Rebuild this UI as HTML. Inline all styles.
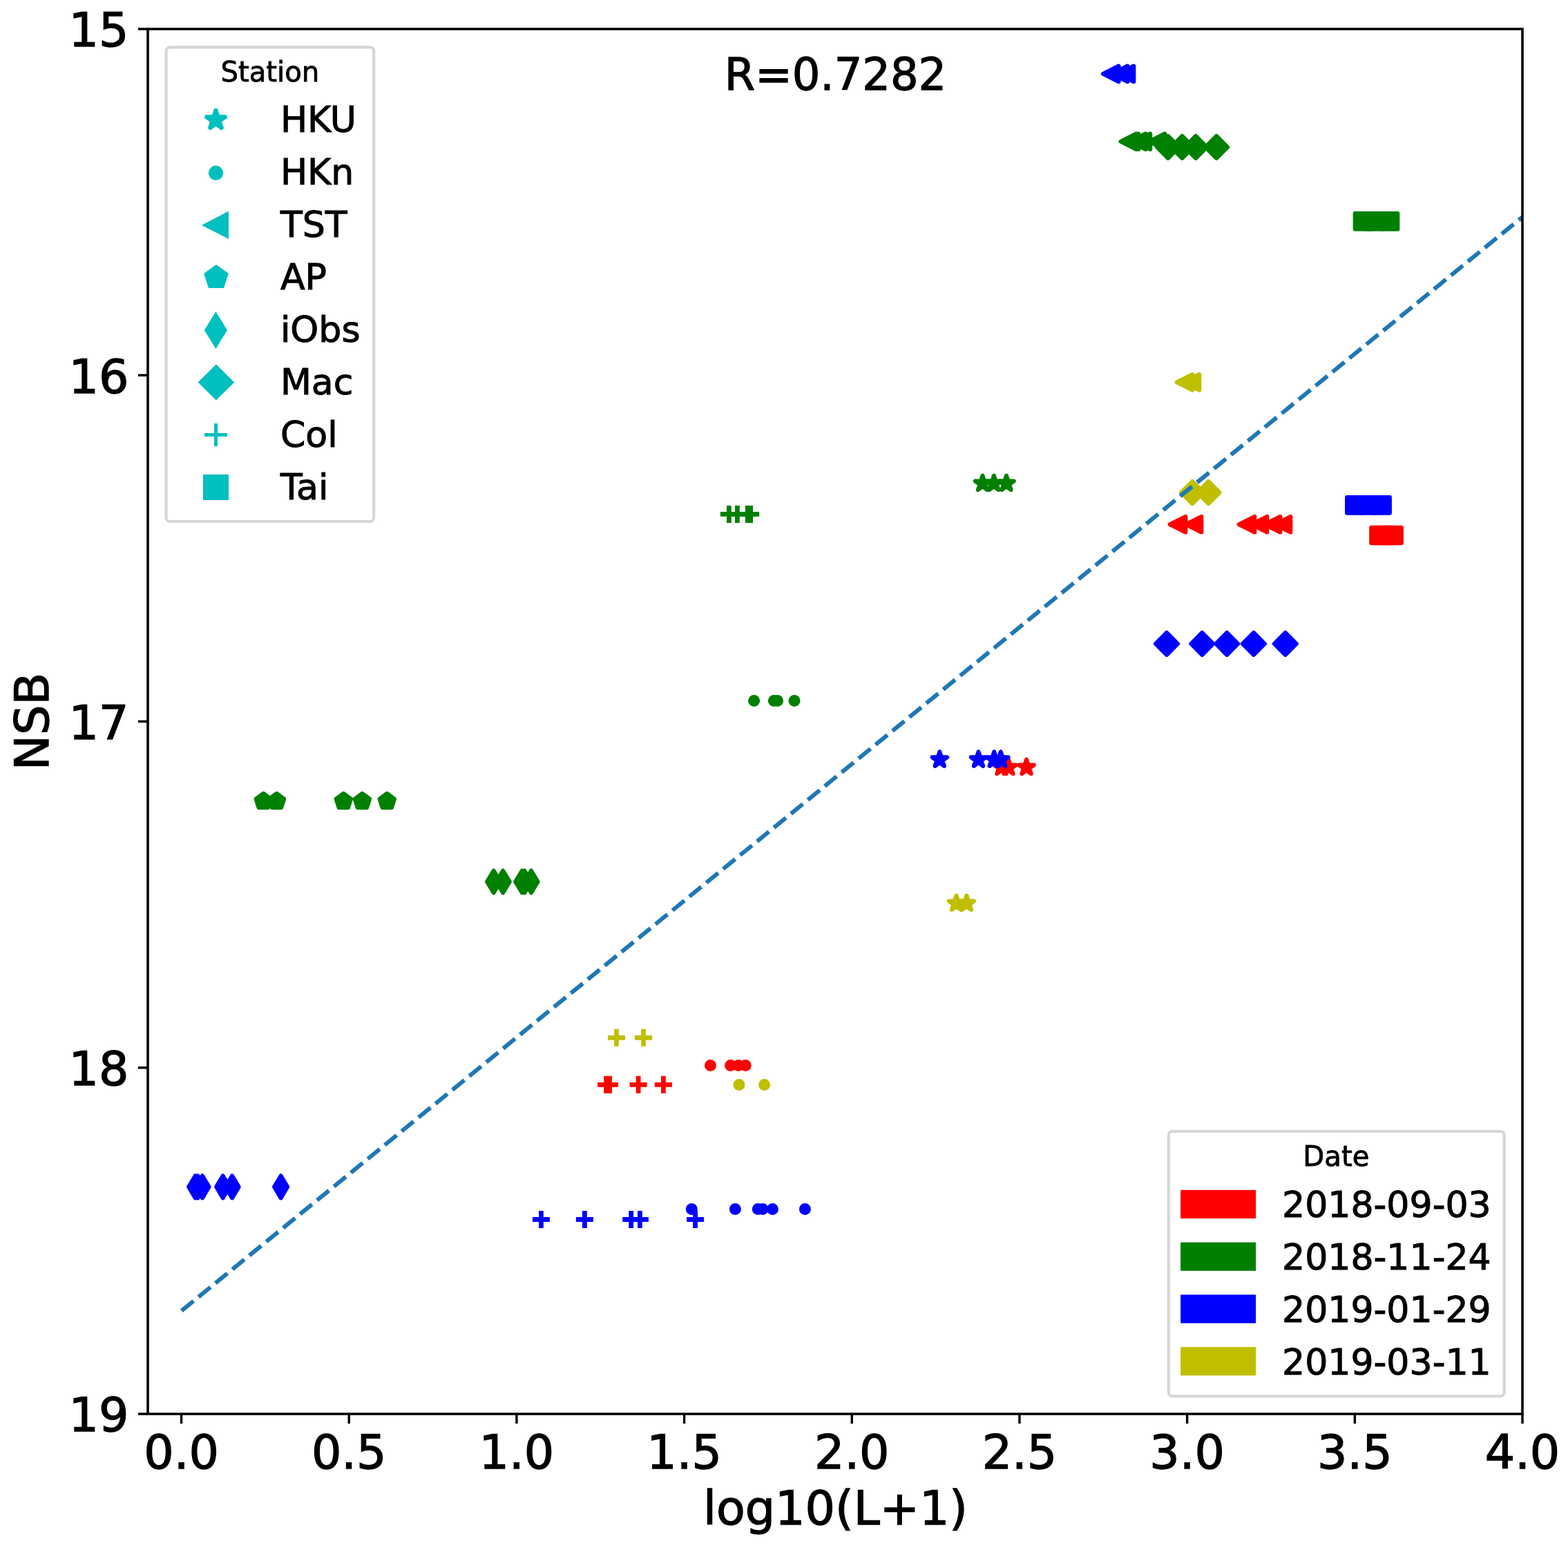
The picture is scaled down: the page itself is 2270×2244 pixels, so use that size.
<!DOCTYPE html><html><head><meta charset="utf-8"><style>html,body{margin:0;padding:0;background:#fff;}svg{display:block;}text{font-family:"DejaVu Sans","Liberation Sans",sans-serif;fill:#000;}</style></head><body>
<svg width="2270" height="2244" viewBox="0 0 2270 2244">
<rect width="2270" height="2244" fill="#fff"/>
<defs><clipPath id="ax"><rect x="214" y="42" width="1990" height="2005"/></clipPath></defs>
<g clip-path="url(#ax)">
<path d="M1450 1099.65 L1447.45 1107.49 L1439.21 1107.49 L1445.88 1112.34 L1443.33 1120.18 L1450 1115.34 L1456.67 1120.18 L1454.12 1112.34 L1460.79 1107.49 L1452.55 1107.49 Z" fill="#ff0000" stroke="#ff0000" stroke-width="6" stroke-linejoin="round"/>
<path d="M1460 1099.65 L1457.45 1107.49 L1449.21 1107.49 L1455.88 1112.34 L1453.33 1120.18 L1460 1115.34 L1466.67 1120.18 L1464.12 1112.34 L1470.79 1107.49 L1462.55 1107.49 Z" fill="#ff0000" stroke="#ff0000" stroke-width="6" stroke-linejoin="round"/>
<path d="M1486 1099.65 L1483.45 1107.49 L1475.21 1107.49 L1481.88 1112.34 L1479.33 1120.18 L1486 1115.34 L1492.67 1120.18 L1490.12 1112.34 L1496.79 1107.49 L1488.55 1107.49 Z" fill="#ff0000" stroke="#ff0000" stroke-width="6" stroke-linejoin="round"/>
<circle cx="1028.5" cy="1542.4" r="8.5" fill="#ff0000"/>
<circle cx="1057.6" cy="1542.4" r="8.5" fill="#ff0000"/>
<circle cx="1068.8" cy="1542.4" r="8.5" fill="#ff0000"/>
<circle cx="1079.2" cy="1542.4" r="8.5" fill="#ff0000"/>
<path d="M1693.65 759.2 L1716.35 747.85 L1716.35 770.55 Z" fill="#ff0000" stroke="#ff0000" stroke-width="6" stroke-linejoin="round"/>
<path d="M1716.65 759.2 L1739.35 747.85 L1739.35 770.55 Z" fill="#ff0000" stroke="#ff0000" stroke-width="6" stroke-linejoin="round"/>
<path d="M1793.65 759.2 L1816.35 747.85 L1816.35 770.55 Z" fill="#ff0000" stroke="#ff0000" stroke-width="6" stroke-linejoin="round"/>
<path d="M1811.65 759.2 L1834.35 747.85 L1834.35 770.55 Z" fill="#ff0000" stroke="#ff0000" stroke-width="6" stroke-linejoin="round"/>
<path d="M1830.65 759.2 L1853.35 747.85 L1853.35 770.55 Z" fill="#ff0000" stroke="#ff0000" stroke-width="6" stroke-linejoin="round"/>
<path d="M1845.65 759.2 L1868.35 747.85 L1868.35 770.55 Z" fill="#ff0000" stroke="#ff0000" stroke-width="6" stroke-linejoin="round"/>
<path d="M865.1 1570.3 H890.1 M877.6 1557.8 V1582.8" stroke="#ff0000" stroke-width="6.8" fill="none"/>
<path d="M870 1570.3 H895 M882.5 1557.8 V1582.8" stroke="#ff0000" stroke-width="6.8" fill="none"/>
<path d="M911.6 1570.3 H936.6 M924.1 1557.8 V1582.8" stroke="#ff0000" stroke-width="6.8" fill="none"/>
<path d="M947.9 1570.3 H972.9 M960.4 1557.8 V1582.8" stroke="#ff0000" stroke-width="6.8" fill="none"/>
<path d="M1985.15 763.65 L2007.85 763.65 L2007.85 786.35 L1985.15 786.35 Z" fill="#ff0000" stroke="#ff0000" stroke-width="6" stroke-linejoin="round"/>
<path d="M1994.65 763.65 L2017.35 763.65 L2017.35 786.35 L1994.65 786.35 Z" fill="#ff0000" stroke="#ff0000" stroke-width="6" stroke-linejoin="round"/>
<path d="M2006.15 763.65 L2028.85 763.65 L2028.85 786.35 L2006.15 786.35 Z" fill="#ff0000" stroke="#ff0000" stroke-width="6" stroke-linejoin="round"/>
<path d="M1422.5 688.65 L1419.95 696.49 L1411.71 696.49 L1418.38 701.34 L1415.83 709.18 L1422.5 704.34 L1429.17 709.18 L1426.62 701.34 L1433.29 696.49 L1425.05 696.49 Z" fill="#008000" stroke="#008000" stroke-width="6" stroke-linejoin="round"/>
<path d="M1438.9 688.65 L1436.35 696.49 L1428.11 696.49 L1434.78 701.34 L1432.23 709.18 L1438.9 704.34 L1445.57 709.18 L1443.02 701.34 L1449.69 696.49 L1441.45 696.49 Z" fill="#008000" stroke="#008000" stroke-width="6" stroke-linejoin="round"/>
<path d="M1457 688.65 L1454.45 696.49 L1446.21 696.49 L1452.88 701.34 L1450.33 709.18 L1457 704.34 L1463.67 709.18 L1461.12 701.34 L1467.79 696.49 L1459.55 696.49 Z" fill="#008000" stroke="#008000" stroke-width="6" stroke-linejoin="round"/>
<circle cx="1091.6" cy="1014.4" r="8.5" fill="#008000"/>
<circle cx="1120.4" cy="1014.4" r="8.5" fill="#008000"/>
<circle cx="1125.5" cy="1014.4" r="8.5" fill="#008000"/>
<circle cx="1150" cy="1014.4" r="8.5" fill="#008000"/>
<path d="M1622.45 204.9 L1645.15 193.55 L1645.15 216.25 Z" fill="#008000" stroke="#008000" stroke-width="6" stroke-linejoin="round"/>
<path d="M1625.55 204.9 L1648.25 193.55 L1648.25 216.25 Z" fill="#008000" stroke="#008000" stroke-width="6" stroke-linejoin="round"/>
<path d="M1635.85 204.9 L1658.55 193.55 L1658.55 216.25 Z" fill="#008000" stroke="#008000" stroke-width="6" stroke-linejoin="round"/>
<path d="M1642.55 204.9 L1665.25 193.55 L1665.25 216.25 Z" fill="#008000" stroke="#008000" stroke-width="6" stroke-linejoin="round"/>
<path d="M1663.55 204.9 L1686.25 193.55 L1686.25 216.25 Z" fill="#008000" stroke="#008000" stroke-width="6" stroke-linejoin="round"/>
<path d="M381.3 1148.75 L370.51 1156.59 L374.63 1169.28 L387.97 1169.28 L392.09 1156.59 Z" fill="#008000" stroke="#008000" stroke-width="6" stroke-linejoin="round"/>
<path d="M400.5 1148.75 L389.71 1156.59 L393.83 1169.28 L407.17 1169.28 L411.29 1156.59 Z" fill="#008000" stroke="#008000" stroke-width="6" stroke-linejoin="round"/>
<path d="M497.3 1148.75 L486.51 1156.59 L490.63 1169.28 L503.97 1169.28 L508.09 1156.59 Z" fill="#008000" stroke="#008000" stroke-width="6" stroke-linejoin="round"/>
<path d="M524.4 1148.75 L513.61 1156.59 L517.73 1169.28 L531.07 1169.28 L535.19 1156.59 Z" fill="#008000" stroke="#008000" stroke-width="6" stroke-linejoin="round"/>
<path d="M560.3 1148.75 L549.51 1156.59 L553.63 1169.28 L566.97 1169.28 L571.09 1156.59 Z" fill="#008000" stroke="#008000" stroke-width="6" stroke-linejoin="round"/>
<path d="M714.7 1260.45 L724.33 1276.5 L714.7 1292.55 L705.07 1276.5 Z" fill="#008000" stroke="#008000" stroke-width="6" stroke-linejoin="round"/>
<path d="M728.2 1260.45 L737.83 1276.5 L728.2 1292.55 L718.57 1276.5 Z" fill="#008000" stroke="#008000" stroke-width="6" stroke-linejoin="round"/>
<path d="M755.8 1260.45 L765.43 1276.5 L755.8 1292.55 L746.17 1276.5 Z" fill="#008000" stroke="#008000" stroke-width="6" stroke-linejoin="round"/>
<path d="M759.4 1260.45 L769.03 1276.5 L759.4 1292.55 L749.77 1276.5 Z" fill="#008000" stroke="#008000" stroke-width="6" stroke-linejoin="round"/>
<path d="M769 1260.45 L778.63 1276.5 L769 1292.55 L759.37 1276.5 Z" fill="#008000" stroke="#008000" stroke-width="6" stroke-linejoin="round"/>
<path d="M1691 196.95 L1707.05 213 L1691 229.05 L1674.95 213 Z" fill="#008000" stroke="#008000" stroke-width="6" stroke-linejoin="round"/>
<path d="M1711.4 196.95 L1727.45 213 L1711.4 229.05 L1695.35 213 Z" fill="#008000" stroke="#008000" stroke-width="6" stroke-linejoin="round"/>
<path d="M1731.1 196.95 L1747.15 213 L1731.1 229.05 L1715.05 213 Z" fill="#008000" stroke="#008000" stroke-width="6" stroke-linejoin="round"/>
<path d="M1761.1 196.95 L1777.15 213 L1761.1 229.05 L1745.05 213 Z" fill="#008000" stroke="#008000" stroke-width="6" stroke-linejoin="round"/>
<path d="M1042.9 744.4 H1067.9 M1055.4 731.9 V756.9" stroke="#008000" stroke-width="6.8" fill="none"/>
<path d="M1054.9 744.4 H1079.9 M1067.4 731.9 V756.9" stroke="#008000" stroke-width="6.8" fill="none"/>
<path d="M1069.8 744.4 H1094.8 M1082.3 731.9 V756.9" stroke="#008000" stroke-width="6.8" fill="none"/>
<path d="M1074.2 744.4 H1099.2 M1086.7 731.9 V756.9" stroke="#008000" stroke-width="6.8" fill="none"/>
<path d="M1961.65 309.05 L1984.35 309.05 L1984.35 331.75 L1961.65 331.75 Z" fill="#008000" stroke="#008000" stroke-width="6" stroke-linejoin="round"/>
<path d="M1978.65 309.05 L2001.35 309.05 L2001.35 331.75 L1978.65 331.75 Z" fill="#008000" stroke="#008000" stroke-width="6" stroke-linejoin="round"/>
<path d="M2000.65 309.05 L2023.35 309.05 L2023.35 331.75 L2000.65 331.75 Z" fill="#008000" stroke="#008000" stroke-width="6" stroke-linejoin="round"/>
<path d="M1360.3 1088.45 L1357.75 1096.29 L1349.51 1096.29 L1356.18 1101.14 L1353.63 1108.98 L1360.3 1104.14 L1366.97 1108.98 L1364.42 1101.14 L1371.09 1096.29 L1362.85 1096.29 Z" fill="#0000ff" stroke="#0000ff" stroke-width="6" stroke-linejoin="round"/>
<path d="M1416.5 1088.45 L1413.95 1096.29 L1405.71 1096.29 L1412.38 1101.14 L1409.83 1108.98 L1416.5 1104.14 L1423.17 1108.98 L1420.62 1101.14 L1427.29 1096.29 L1419.05 1096.29 Z" fill="#0000ff" stroke="#0000ff" stroke-width="6" stroke-linejoin="round"/>
<path d="M1439.2 1088.45 L1436.65 1096.29 L1428.41 1096.29 L1435.08 1101.14 L1432.53 1108.98 L1439.2 1104.14 L1445.87 1108.98 L1443.32 1101.14 L1449.99 1096.29 L1441.75 1096.29 Z" fill="#0000ff" stroke="#0000ff" stroke-width="6" stroke-linejoin="round"/>
<path d="M1448.8 1088.45 L1446.25 1096.29 L1438.01 1096.29 L1444.68 1101.14 L1442.13 1108.98 L1448.8 1104.14 L1455.47 1108.98 L1452.92 1101.14 L1459.59 1096.29 L1451.35 1096.29 Z" fill="#0000ff" stroke="#0000ff" stroke-width="6" stroke-linejoin="round"/>
<circle cx="1001.3" cy="1750.4" r="8.5" fill="#0000ff"/>
<circle cx="1064.4" cy="1750.4" r="8.5" fill="#0000ff"/>
<circle cx="1097.3" cy="1750.4" r="8.5" fill="#0000ff"/>
<circle cx="1104.1" cy="1750.4" r="8.5" fill="#0000ff"/>
<circle cx="1118.4" cy="1750.4" r="8.5" fill="#0000ff"/>
<circle cx="1165.4" cy="1750.4" r="8.5" fill="#0000ff"/>
<path d="M1596.85 106.9 L1619.55 95.55 L1619.55 118.25 Z" fill="#0000ff" stroke="#0000ff" stroke-width="6" stroke-linejoin="round"/>
<path d="M1609.65 106.9 L1632.35 95.55 L1632.35 118.25 Z" fill="#0000ff" stroke="#0000ff" stroke-width="6" stroke-linejoin="round"/>
<path d="M1618.65 106.9 L1641.35 95.55 L1641.35 118.25 Z" fill="#0000ff" stroke="#0000ff" stroke-width="6" stroke-linejoin="round"/>
<path d="M282.7 1702.25 L292.33 1718.3 L282.7 1734.35 L273.07 1718.3 Z" fill="#0000ff" stroke="#0000ff" stroke-width="6" stroke-linejoin="round"/>
<path d="M286.4 1702.25 L296.03 1718.3 L286.4 1734.35 L276.77 1718.3 Z" fill="#0000ff" stroke="#0000ff" stroke-width="6" stroke-linejoin="round"/>
<path d="M293 1702.25 L302.63 1718.3 L293 1734.35 L283.37 1718.3 Z" fill="#0000ff" stroke="#0000ff" stroke-width="6" stroke-linejoin="round"/>
<path d="M322.7 1702.25 L332.33 1718.3 L322.7 1734.35 L313.07 1718.3 Z" fill="#0000ff" stroke="#0000ff" stroke-width="6" stroke-linejoin="round"/>
<path d="M336.1 1702.25 L345.73 1718.3 L336.1 1734.35 L326.47 1718.3 Z" fill="#0000ff" stroke="#0000ff" stroke-width="6" stroke-linejoin="round"/>
<path d="M406.6 1702.25 L416.23 1718.3 L406.6 1734.35 L396.97 1718.3 Z" fill="#0000ff" stroke="#0000ff" stroke-width="6" stroke-linejoin="round"/>
<path d="M1689 915.95 L1705.05 932 L1689 948.05 L1672.95 932 Z" fill="#0000ff" stroke="#0000ff" stroke-width="6" stroke-linejoin="round"/>
<path d="M1740.3 915.95 L1756.35 932 L1740.3 948.05 L1724.25 932 Z" fill="#0000ff" stroke="#0000ff" stroke-width="6" stroke-linejoin="round"/>
<path d="M1776.2 915.95 L1792.25 932 L1776.2 948.05 L1760.15 932 Z" fill="#0000ff" stroke="#0000ff" stroke-width="6" stroke-linejoin="round"/>
<path d="M1814.9 915.95 L1830.95 932 L1814.9 948.05 L1798.85 932 Z" fill="#0000ff" stroke="#0000ff" stroke-width="6" stroke-linejoin="round"/>
<path d="M1860.8 915.95 L1876.85 932 L1860.8 948.05 L1844.75 932 Z" fill="#0000ff" stroke="#0000ff" stroke-width="6" stroke-linejoin="round"/>
<path d="M770.9 1765.5 H795.9 M783.4 1753 V1778" stroke="#0000ff" stroke-width="6.8" fill="none"/>
<path d="M833.9 1765.5 H858.9 M846.4 1753 V1778" stroke="#0000ff" stroke-width="6.8" fill="none"/>
<path d="M901.2 1765.5 H926.2 M913.7 1753 V1778" stroke="#0000ff" stroke-width="6.8" fill="none"/>
<path d="M913.9 1765.5 H938.9 M926.4 1753 V1778" stroke="#0000ff" stroke-width="6.8" fill="none"/>
<path d="M994.1 1765.5 H1019.1 M1006.6 1753 V1778" stroke="#0000ff" stroke-width="6.8" fill="none"/>
<path d="M1950.05 720.05 L1972.75 720.05 L1972.75 742.75 L1950.05 742.75 Z" fill="#0000ff" stroke="#0000ff" stroke-width="6" stroke-linejoin="round"/>
<path d="M1969.65 720.05 L1992.35 720.05 L1992.35 742.75 L1969.65 742.75 Z" fill="#0000ff" stroke="#0000ff" stroke-width="6" stroke-linejoin="round"/>
<path d="M1989.25 720.05 L2011.95 720.05 L2011.95 742.75 L1989.25 742.75 Z" fill="#0000ff" stroke="#0000ff" stroke-width="6" stroke-linejoin="round"/>
<path d="M1384.5 1296.55 L1381.95 1304.39 L1373.71 1304.39 L1380.38 1309.24 L1377.83 1317.08 L1384.5 1312.24 L1391.17 1317.08 L1388.62 1309.24 L1395.29 1304.39 L1387.05 1304.39 Z" fill="#bfbf00" stroke="#bfbf00" stroke-width="6" stroke-linejoin="round"/>
<path d="M1399.4 1296.55 L1396.85 1304.39 L1388.61 1304.39 L1395.28 1309.24 L1392.73 1317.08 L1399.4 1312.24 L1406.07 1317.08 L1403.52 1309.24 L1410.19 1304.39 L1401.95 1304.39 Z" fill="#bfbf00" stroke="#bfbf00" stroke-width="6" stroke-linejoin="round"/>
<circle cx="1070" cy="1570.4" r="8.5" fill="#bfbf00"/>
<circle cx="1106.6" cy="1570.4" r="8.5" fill="#bfbf00"/>
<path d="M1703.65 553.4 L1726.35 542.05 L1726.35 564.75 Z" fill="#bfbf00" stroke="#bfbf00" stroke-width="6" stroke-linejoin="round"/>
<path d="M1713.65 553.4 L1736.35 542.05 L1736.35 564.75 Z" fill="#bfbf00" stroke="#bfbf00" stroke-width="6" stroke-linejoin="round"/>
<path d="M1726.1 697.05 L1742.15 713.1 L1726.1 729.15 L1710.05 713.1 Z" fill="#bfbf00" stroke="#bfbf00" stroke-width="6" stroke-linejoin="round"/>
<path d="M1749.5 697.05 L1765.55 713.1 L1749.5 729.15 L1733.45 713.1 Z" fill="#bfbf00" stroke="#bfbf00" stroke-width="6" stroke-linejoin="round"/>
<path d="M880 1502.3 H905 M892.5 1489.8 V1514.8" stroke="#bfbf00" stroke-width="6.8" fill="none"/>
<path d="M919 1502.3 H944 M931.5 1489.8 V1514.8" stroke="#bfbf00" stroke-width="6.8" fill="none"/>
<path d="M262.9 1897.6 L2230 293.04" stroke="#1f77b4" stroke-width="6" fill="none" stroke-dasharray="22.3 9.32"/>
</g>
<text x="1209.5" y="130.1" font-size="63.9" stroke="#000" stroke-width="1.28" text-anchor="middle">R=0.7282</text>
<path d="M214 42 H2204 V2047 H214 Z" fill="none" stroke="#000" stroke-width="3.6" stroke-linejoin="miter"/>
<path d="M262.54 2047 V2061 M505.23 2047 V2061 M747.91 2047 V2061 M990.6 2047 V2061 M1233.28 2047 V2061 M1475.96 2047 V2061 M1718.65 2047 V2061 M1961.34 2047 V2061 M2204.02 2047 V2061 M200 42 H214 M200 543.25 H214 M200 1044.5 H214 M200 1545.75 H214 M200 2047 H214" stroke="#000" stroke-width="3.4" fill="none"/>
<text x="262.54" y="2125.5" font-size="68.3" stroke="#000" stroke-width="1.37" text-anchor="middle">0.0</text>
<text x="505.23" y="2125.5" font-size="68.3" stroke="#000" stroke-width="1.37" text-anchor="middle">0.5</text>
<text x="747.91" y="2125.5" font-size="68.3" stroke="#000" stroke-width="1.37" text-anchor="middle">1.0</text>
<text x="990.6" y="2125.5" font-size="68.3" stroke="#000" stroke-width="1.37" text-anchor="middle">1.5</text>
<text x="1233.28" y="2125.5" font-size="68.3" stroke="#000" stroke-width="1.37" text-anchor="middle">2.0</text>
<text x="1475.96" y="2125.5" font-size="68.3" stroke="#000" stroke-width="1.37" text-anchor="middle">2.5</text>
<text x="1718.65" y="2125.5" font-size="68.3" stroke="#000" stroke-width="1.37" text-anchor="middle">3.0</text>
<text x="1961.34" y="2125.5" font-size="68.3" stroke="#000" stroke-width="1.37" text-anchor="middle">3.5</text>
<text x="2204.02" y="2125.5" font-size="68.3" stroke="#000" stroke-width="1.37" text-anchor="middle">4.0</text>
<text x="186.4" y="67.3" font-size="68.3" stroke="#000" stroke-width="1.37" text-anchor="end">15</text>
<text x="186.4" y="568.55" font-size="68.3" stroke="#000" stroke-width="1.37" text-anchor="end">16</text>
<text x="186.4" y="1069.8" font-size="68.3" stroke="#000" stroke-width="1.37" text-anchor="end">17</text>
<text x="186.4" y="1571.05" font-size="68.3" stroke="#000" stroke-width="1.37" text-anchor="end">18</text>
<text x="186.4" y="2072.3" font-size="68.3" stroke="#000" stroke-width="1.37" text-anchor="end">19</text>
<text x="1209.5" y="2207.3" font-size="68.3" stroke="#000" stroke-width="1.37" text-anchor="middle">log10(L+1)</text>
<text transform="translate(69.6 1044.5) rotate(-90)" x="0" y="0" font-size="68.3" stroke="#000" stroke-width="1.37" text-anchor="middle">NSB</text>
<rect x="240.5" y="68.3" width="300.7" height="686.7" rx="5.6" ry="5.6" fill="#fff" stroke="#d6d6d6" stroke-width="4.2"/>
<text x="390.85" y="118.4" font-size="40.2" stroke="#000" stroke-width="0.80" text-anchor="middle">Station</text>
<text x="405.9" y="191.4" font-size="52.1" stroke="#000" stroke-width="1.04">HKU</text>
<text x="405.9" y="267.4" font-size="52.1" stroke="#000" stroke-width="1.04">HKn</text>
<text x="405.9" y="343.4" font-size="52.1" stroke="#000" stroke-width="1.04">TST</text>
<text x="405.9" y="419.4" font-size="52.1" stroke="#000" stroke-width="1.04">AP</text>
<text x="405.9" y="495.4" font-size="52.1" stroke="#000" stroke-width="1.04">iObs</text>
<text x="405.9" y="571.4" font-size="52.1" stroke="#000" stroke-width="1.04">Mac</text>
<text x="405.9" y="647.4" font-size="52.1" stroke="#000" stroke-width="1.04">Col</text>
<text x="405.9" y="723.4" font-size="52.1" stroke="#000" stroke-width="1.04">Tai</text>
<path d="M312.45 157.7 L308.86 168.76 L297.23 168.76 L306.64 175.59 L303.05 186.64 L312.45 179.81 L321.85 186.64 L318.26 175.59 L327.67 168.76 L316.04 168.76 Z" fill="#00bfbf" stroke="#00bfbf" stroke-width="5" stroke-linejoin="bevel"/>
<circle cx="312.5" cy="250.4" r="10.6" fill="#00bfbf"/>
<path d="M291.95 326 L330.95 305.8 L330.95 346.1 Z" fill="#00bfbf"/>
<path d="M313 383 L295.12 395.99 L301.95 417.01 L324.05 417.01 L330.88 395.99 Z" fill="#00bfbf"/>
<path d="M312.4 450.9 L329 478 L312.4 505.1 L295.8 478 Z" fill="#00bfbf"/>
<path d="M312.9 527.5 L339.1 553.5 L312.9 579.5 L286.7 553.5 Z" fill="#00bfbf"/>
<path d="M296 629.6 H329 M312.5 613.1 V646.1" stroke="#00bfbf" stroke-width="5" fill="none"/>
<rect x="294" y="687" width="37" height="37" fill="#00bfbf"/>
<rect x="1691.7" y="1637.9" width="486" height="383.4" rx="5.6" ry="5.6" fill="#fff" stroke="#d6d6d6" stroke-width="4.2"/>
<text x="1934.4" y="1687.7" font-size="40.2" stroke="#000" stroke-width="0.80" text-anchor="middle">Date</text>
<rect x="1709.1" y="1722.8" width="109" height="41.2" fill="#ff0000"/>
<text x="1856.0" y="1762.3" font-size="52.1" stroke="#000" stroke-width="1.04">2018-09-03</text>
<rect x="1709.1" y="1798.6" width="109" height="41.2" fill="#008000"/>
<text x="1856.0" y="1838.1" font-size="52.1" stroke="#000" stroke-width="1.04">2018-11-24</text>
<rect x="1709.1" y="1874.4" width="109" height="41.2" fill="#0000ff"/>
<text x="1856.0" y="1913.9" font-size="52.1" stroke="#000" stroke-width="1.04">2019-01-29</text>
<rect x="1709.1" y="1950.2" width="109" height="41.2" fill="#bfbf00"/>
<text x="1856.0" y="1989.7" font-size="52.1" stroke="#000" stroke-width="1.04">2019-03-11</text>
</svg></body></html>
